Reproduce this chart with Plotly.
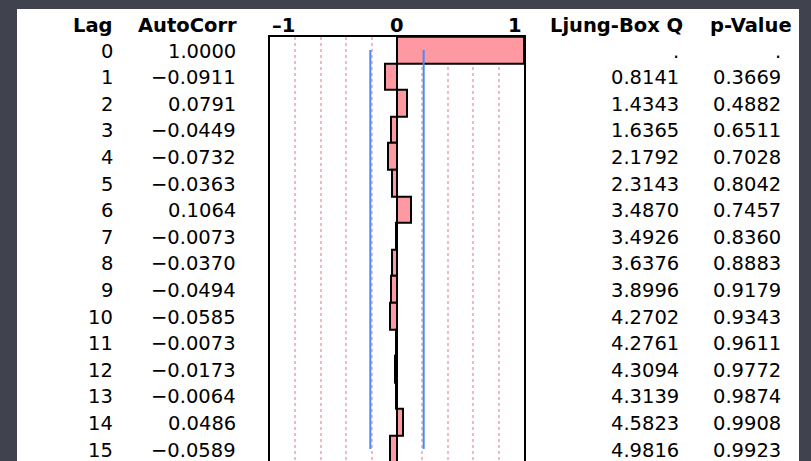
import plotly.graph_objects as go

W, H = 811, 461

lags = list(range(16))
autocorr = [1.0000, -0.0911, 0.0791, -0.0449, -0.0732, -0.0363, 0.1064, -0.0073,
            -0.0370, -0.0494, -0.0585, -0.0073, -0.0173, -0.0064, 0.0486, -0.0589]
ljung_q = [None, 0.8141, 1.4343, 1.6365, 2.1792, 2.3143, 3.4870, 3.4926,
           3.6376, 3.8996, 4.2702, 4.2761, 4.3094, 4.3139, 4.5823, 4.9816]
p_values = [None, 0.3669, 0.4882, 0.6511, 0.7028, 0.8042, 0.7457, 0.8360,
            0.8883, 0.9179, 0.9343, 0.9611, 0.9772, 0.9874, 0.9908, 0.9923]
headers = ["Lag", "AutoCorr", "Ljung-Box Q", "p-Value"]
axis_ticks = [-1, 0, 1]
grid_vals = [-0.8, -0.6, -0.4, -0.2, 0.2, 0.4, 0.6, 0.8]
ci_limit = 0.21

FONT = "DejaVu Sans"
FS = 19.5
PINK = "#ff99a1"
BLUE = "#4a8af4"

# layout geometry (pixels)
box_left, box_right, box_top = 270, 524, 36.7
row_h = 26.6
panel_left, panel_right, panel_top = 17, 799, 9


def fmt(v):
    if v is None:
        return "."
    return f"{v:.4f}".replace("-", "\u2212")


def px(x):
    return x / W


def py(y):
    return 1 - y / H


fig = go.Figure()

fig.add_trace(go.Bar(
    x=autocorr, y=lags, orientation="h", width=1.0,
    marker=dict(color=PINK, line=dict(color="black", width=2)),
    hoverinfo="skip", showlegend=False,
))

for s in (-1, 1):
    fig.add_trace(go.Scatter(
        x=[s * ci_limit, s * ci_limit], y=[lags[0], lags[-1]], mode="lines",
        line=dict(color=BLUE, width=2), hoverinfo="skip", showlegend=False,
    ))

bottom_val = -0.5 + (H - box_top) / row_h

fig.update_layout(
    width=W, height=H,
    margin=dict(l=0, r=0, t=0, b=0),
    paper_bgcolor="#40434d",
    plot_bgcolor="white",
    bargap=0,
    xaxis=dict(
        domain=[px(box_left), px(box_right)], range=[-1, 1],
        showline=True, mirror=True, linecolor="black", linewidth=2,
        tickvals=grid_vals, showticklabels=False, ticks="",
        showgrid=True, gridcolor="#ffb3bb", gridwidth=1.5, griddash="dot",
        zeroline=False, fixedrange=True,
    ),
    yaxis=dict(
        domain=[0, py(box_top)], range=[bottom_val, -0.5],
        showline=True, mirror=True, linecolor="black", linewidth=2,
        showticklabels=False, ticks="", showgrid=False, zeroline=False,
        fixedrange=True,
    ),
    shapes=[dict(
        type="rect", xref="paper", yref="paper", layer="below",
        x0=px(panel_left), x1=px(panel_right), y0=0, y1=py(panel_top),
        fillcolor="white", line=dict(width=0),
    )],
)

ann = []
header_y = py(25)
bold = dict(family=FONT, size=FS, color="black", weight="bold")
norm = dict(family=FONT, size=FS, color="black")

# headers (right-aligned)
header_x = [115.5, 238.5, 684.5, 793.5]
for h, xr in zip(headers, header_x):
    ann.append(dict(text=h, x=px(xr), y=header_y, xref="paper", yref="paper",
                    xanchor="right", yanchor="middle", showarrow=False, font=bold))

# axis labels above the plot box
anchors = {-1: "left", 0: "center", 1: "right"}
for t in axis_ticks:
    ann.append(dict(text=str(t).replace("-", "\u2013"), x=t, y=header_y,
                    xref="x", yref="paper",
                    xanchor=anchors[t], yanchor="middle", showarrow=False, font=bold))

cols = [
    ([str(l) for l in lags], 114.5),
    ([fmt(v) for v in autocorr], 238),
    ([fmt(v) for v in ljung_q], 680.5),
    ([fmt(v) for v in p_values], 783),
]
for texts, xr in cols:
    for lag, t in zip(lags, texts):
        ann.append(dict(text=t, x=px(xr), y=lag, xref="paper", yref="y",
                        xanchor="right", yanchor="middle", showarrow=False,
                        yshift=-1, font=norm))

fig.update_layout(annotations=ann)

fig.write_html("out.html")
